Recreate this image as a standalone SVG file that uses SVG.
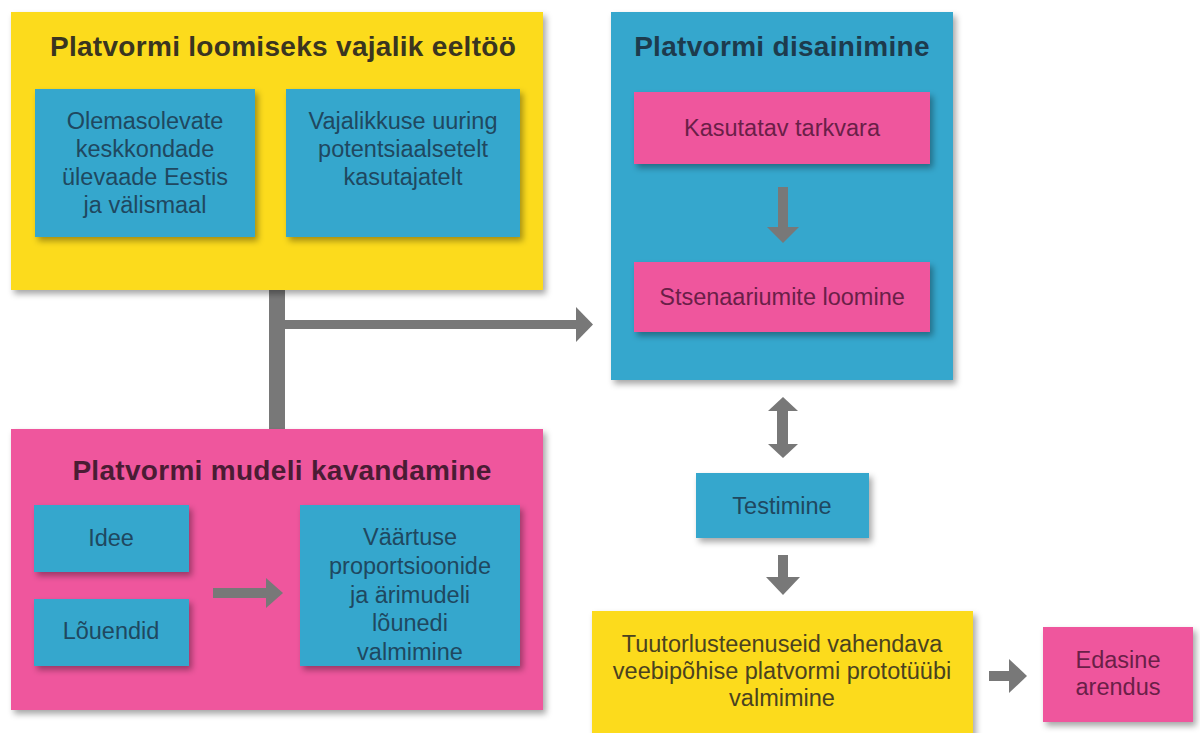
<svg xmlns="http://www.w3.org/2000/svg" width="1200" height="733" viewBox="0 0 1200 733">
<defs>
<filter id="sh" x="-10%" y="-10%" width="130%" height="130%">
<feDropShadow dx="3" dy="4" stdDeviation="3" flood-color="#000" flood-opacity="0.35"/>
</filter>
<style>
.y{fill:#FCDB1E}
.b{fill:#34A7CD}
.p{fill:#EF579D}
.t{font-family:"Liberation Sans",Arial,sans-serif;font-weight:bold;font-size:28px;letter-spacing:0.3px;text-anchor:middle}
.x{font-family:"Liberation Sans",Arial,sans-serif;font-size:23.5px;text-anchor:middle}
.tb{fill:#1f4860}
.tp{fill:#6a1f48}
.ty{fill:#4a4220}
.ar{fill:#787878}
</style>
</defs>
<rect width="1200" height="733" fill="#ffffff"/>

<g id="connectors">
<rect class="ar" x="269" y="288" width="16" height="143"/>
<rect class="ar" x="285" y="320" width="292" height="9"/>
<polygon class="ar" points="576,307 593,324.5 576,342"/>
</g>

<g id="eeltoo">
<rect class="y" x="11" y="12" width="532" height="278" filter="url(#sh)"/>
<text class="t" x="283" y="56" fill="#3a3520">Platvormi loomiseks vajalik eeltöö</text>
</g>
<g id="olemasolevate">
<rect class="b" x="35" y="89" width="220" height="148" filter="url(#sh)"/>
<text class="x tb" x="145" y="129">Olemasolevate</text>
<text class="x tb" x="145" y="157">keskkondade</text>
<text class="x tb" x="145" y="185">ülevaade Eestis</text>
<text class="x tb" x="145" y="213">ja välismaal</text>
</g>
<g id="vajalikkuse">
<rect class="b" x="286" y="89" width="234" height="148" filter="url(#sh)"/>
<text class="x tb" x="403" y="129">Vajalikkuse uuring</text>
<text class="x tb" x="403" y="157">potentsiaalsetelt</text>
<text class="x tb" x="403" y="185">kasutajatelt</text>
</g>

<g id="disainimine">
<rect class="b" x="611" y="12" width="342" height="368" filter="url(#sh)"/>
<text class="t" x="782" y="56" fill="#1d3b4d">Platvormi disainimine</text>
</g>
<g id="tarkvara">
<rect class="p" x="634" y="92" width="296" height="72" filter="url(#sh)"/>
<text class="x tp" x="782" y="136">Kasutatav tarkvara</text>
</g>
<g id="conn-inner1">
<rect class="ar" x="778" y="187" width="10" height="41"/>
<polygon class="ar" points="767,227 799,227 783,243"/>
</g>
<g id="stsenaariumite">
<rect class="p" x="634" y="262" width="296" height="70" filter="url(#sh)"/>
<text class="x tp" x="782" y="305">Stsenaariumite loomine</text>
</g>

<g id="mudeli">
<rect class="p" x="11" y="429" width="532" height="281" filter="url(#sh)"/>
<text class="t" x="282" y="480" fill="#4a1c34">Platvormi mudeli kavandamine</text>
</g>
<g id="idee">
<rect class="b" x="34" y="505" width="155" height="67" filter="url(#sh)"/>
<text class="x tb" x="111" y="546">Idee</text>
</g>
<g id="louendid">
<rect class="b" x="34" y="599" width="155" height="67" filter="url(#sh)"/>
<text class="x tb" x="111" y="639">Lõuendid</text>
</g>
<g id="conn-inner2">
<rect class="ar" x="213" y="588" width="54" height="10"/>
<polygon class="ar" points="266,578 283,593 266,608"/>
</g>
<g id="vaartuse">
<rect class="b" x="300" y="505" width="220" height="161" filter="url(#sh)"/>
<text class="x tb" x="410" y="545">Väärtuse</text>
<text class="x tb" x="410" y="574">proportsioonide</text>
<text class="x tb" x="410" y="603">ja ärimudeli</text>
<text class="x tb" x="410" y="631">lõunedi</text>
<text class="x tb" x="410" y="660">valmimine</text>
</g>

<g id="connectors2">
<rect class="ar" x="777" y="409" width="11" height="37"/>
<polygon class="ar" points="768,411 783,397 798,411"/>
<polygon class="ar" points="768,444 783,458 798,444"/>
<rect class="ar" x="778" y="555" width="10" height="23"/>
<polygon class="ar" points="766,577 800,577 783,595"/>
<rect class="ar" x="989" y="671" width="21" height="10"/>
<polygon class="ar" points="1009,659 1027,676 1009,693"/>
</g>

<g id="testimine">
<rect class="b" x="696" y="473" width="173" height="65" filter="url(#sh)"/>
<text class="x tb" x="782" y="514">Testimine</text>
</g>
<g id="prototuup">
<rect class="y" x="592" y="611" width="381" height="130" filter="url(#sh)"/>
<text class="x ty" x="782" y="652">Tuutorlusteenuseid vahendava</text>
<text class="x ty" x="782" y="679">veebipõhise platvormi prototüübi</text>
<text class="x ty" x="782" y="706">valmimine</text>
</g>
<g id="edasine">
<rect class="p" x="1043" y="627" width="150" height="95" filter="url(#sh)"/>
<text class="x tp" x="1118" y="668">Edasine</text>
<text class="x tp" x="1118" y="695">arendus</text>
</g>
</svg>
